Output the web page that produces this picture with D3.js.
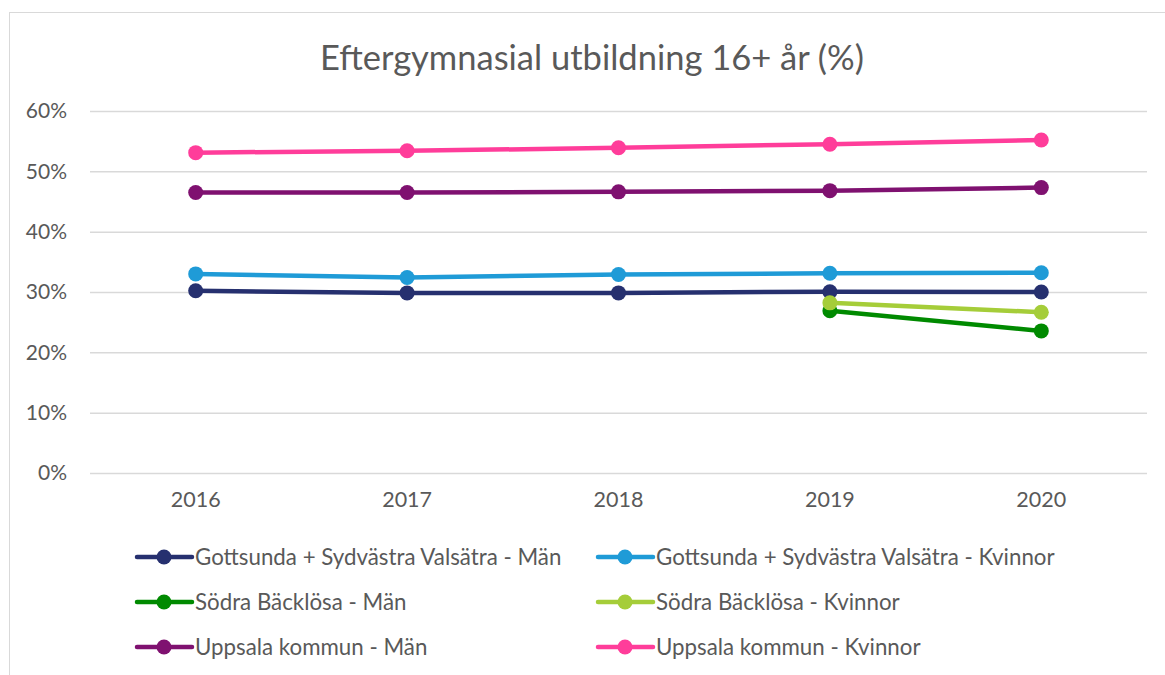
<!DOCTYPE html>
<html>
<head>
    <meta charset="utf-8">
    <title>Eftergymnasial utbildning 16+ år (%)</title>
    <script src="https://d3js.org/d3.v7.min.js"></script>
    <style>
        body { margin: 0; background: #fff; }
        text { font-family: Lato, "Open Sans", sans-serif; fill: #595959; }
    </style>
</head>
<body>
    <div id="chart"></div>
    <script>
const years = ['2016', '2017', '2018', '2019', '2020'];

const gottsundaMan = [30.2, 29.85, 29.85, 30.05, 30.0];
const gottsundaKvinnor = [33.0, 32.4, 32.9, 33.1, 33.2];
const sodraMan = [null, null, null, 26.9, 23.55];
const sodraKvinnor = [null, null, null, 28.2, 26.65];
const uppsalaMan = [46.5, 46.5, 46.6, 46.8, 47.3];
const uppsalaKvinnor = [53.1, 53.4, 53.9, 54.5, 55.2];

const yTicks = [0, 10, 20, 30, 40, 50, 60];

const series = [
    { name: 'Gottsunda + Sydvästra Valsätra - Män', values: gottsundaMan, color: '#26306f' },
    { name: 'Gottsunda + Sydvästra Valsätra - Kvinnor', values: gottsundaKvinnor, color: '#1f9bd7' },
    { name: 'Södra Bäcklösa - Män', values: sodraMan, color: '#008a00' },
    { name: 'Södra Bäcklösa - Kvinnor', values: sodraKvinnor, color: '#a5cd39' },
    { name: 'Uppsala kommun - Män', values: uppsalaMan, color: '#7f1170' },
    { name: 'Uppsala kommun - Kvinnor', values: uppsalaKvinnor, color: '#ff3d9a' }
];

const width = 1165;
const height = 675;
const margin = { top: 111, right: 18, bottom: 202, left: 90 };

const svg = d3.select('#chart')
    .append('svg')
    .attr('width', width)
    .attr('height', height);

// chart frame
svg.append('rect')
    .attr('x', 9.5)
    .attr('y', 12.5)
    .attr('width', 1170)
    .attr('height', 680)
    .attr('fill', 'none')
    .attr('stroke', '#d9d9d9');

const x = d3.scaleBand()
    .domain(years)
    .range([margin.left, width - margin.right]);

const y = d3.scaleLinear()
    .domain([0, 60])
    .range([height - margin.bottom, margin.top]);

svg.append('text')
    .attr('x', 592)
    .attr('y', 70)
    .attr('text-anchor', 'middle')
    .style('font-size', '34.5px')
    .text('Eftergymnasial utbildning 16+ år (%)');

// gridlines
const yAxis = svg.append('g')
    .attr('transform', `translate(${margin.left},0)`)
    .call(d3.axisLeft(y)
        .tickValues(yTicks)
        .tickSize(-(width - margin.left - margin.right))
        .tickPadding(23)
        .tickFormat(d => d + '%'));
yAxis.select('.domain').remove();
yAxis.selectAll('line').attr('stroke', '#d9d9d9').attr('stroke-width', 1.5);
yAxis.selectAll('text').style('font-size', '21px').attr('fill', '#595959');

const xAxis = svg.append('g')
    .attr('transform', `translate(0,${height - margin.bottom})`)
    .call(d3.axisBottom(x).tickSize(0).tickPadding(19));
xAxis.select('.domain').remove();
xAxis.selectAll('text').style('font-size', '21.5px').attr('fill', '#595959');

const line = d3.line()
    .defined(d => d.v !== null)
    .x(d => x(d.year) + x.bandwidth() / 2)
    .y(d => y(d.v));

series.forEach(s => {
    const pts = years.map((year, i) => ({ year: year, v: s.values[i] }));
    svg.append('path')
        .datum(pts)
        .attr('fill', 'none')
        .attr('stroke', s.color)
        .attr('stroke-width', 4.5)
        .attr('stroke-linecap', 'round')
        .attr('d', line);
    svg.append('g')
        .selectAll('circle')
        .data(pts.filter(d => d.v !== null))
        .enter()
        .append('circle')
        .attr('cx', d => x(d.year) + x.bandwidth() / 2)
        .attr('cy', d => y(d.v))
        .attr('r', 7.5)
        .attr('fill', s.color);
});

// legend
const legendCols = [137, 598];
const legendRows = [557, 602, 647];
const legend = svg.append('g')
    .selectAll('g')
    .data(series)
    .enter()
    .append('g')
    .attr('transform', (d, i) => `translate(${legendCols[i % 2]},${legendRows[Math.floor(i / 2)]})`);

legend.append('line')
    .attr('x1', 0)
    .attr('x2', 55)
    .attr('stroke', d => d.color)
    .attr('stroke-width', 4.5)
    .attr('stroke-linecap', 'round');

legend.append('circle')
    .attr('cx', 27)
    .attr('r', 7.5)
    .attr('fill', d => d.color);

legend.append('text')
    .attr('x', 58)
    .attr('dy', '0.35em')
    .style('font-size', '22.3px')
    .text(d => d.name);
    </script>
</body>
</html>
